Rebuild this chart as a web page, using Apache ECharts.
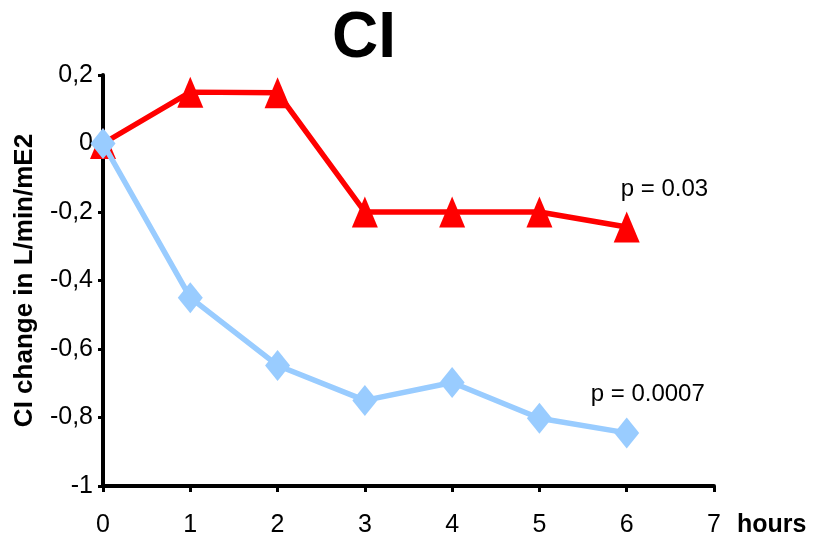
<!DOCTYPE html>
<html>
<head>
<meta charset="utf-8">
<script src="https://cdn.jsdelivr.net/npm/echarts@6/dist/echarts.min.js"></script>
<style>
  html, body { margin: 0; padding: 0; background: #fff; }
  #chart { width: 813px; height: 538px; }
</style>
</head>
<body>
<div id="chart"></div>
<script>
// Hours after start
const hours = [0, 1, 2, 3, 4, 5, 6];
// CI change (L/min/mE2) per group
const redSeries = [0, 0.15, 0.148, -0.2, -0.2, -0.2, -0.244];
const blueSeries = [0, -0.45, -0.648, -0.75, -0.698, -0.802, -0.845];
// Significance notes shown beside the last point of each line
const redNote = 'p = 0.03';
const blueNote = 'p = 0.0007';
// Y tick labels (comma decimals)
const yTickValues = [-1, -0.8, -0.6, -0.4, -0.2, 0, 0.2];
const yTickLabels = ['-1', '-0,8', '-0,6', '-0,4', '-0,2', '0', '0,2'];
const xTickLabels = ['0', '1', '2', '3', '4', '5', '6', '7'];

const FONT = '"Liberation Sans", Arial, sans-serif';

function pairs(xs, ys) {
  return xs.map((x, i) => [x, ys[i]]);
}

// Attach a text note to the final point of a series
function withNote(data, note, offset) {
  const out = data.map(d => ({ value: d }));
  out[out.length - 1].label = {
    show: true,
    formatter: note,
    position: 'top',
    distance: 0,
    align: 'left',
    verticalAlign: 'middle',
    offset: offset,
    color: '#000',
    fontFamily: FONT,
    fontSize: 24
  };
  return out;
}

const chart = echarts.init(document.getElementById('chart'), null, { renderer: 'canvas' });

chart.setOption({
  animation: false,
  backgroundColor: '#fff',
  title: {
    text: 'CI',
    left: 359,
    top: 2,
    textAlign: 'center',
    textStyle: { fontFamily: FONT, fontSize: 64, fontWeight: 'bold', color: '#000' }
  },
  grid: { left: 103, right: 99, top: 75, bottom: 51, containLabel: false },
  xAxis: {
    type: 'value',
    min: 0,
    max: 7,
    interval: 1,
    name: 'hours',
    nameLocation: 'end',
    nameGap: 23,
    nameTextStyle: {
      fontFamily: FONT, fontSize: 25, fontWeight: 'bold', color: '#000',
      verticalAlign: 'top', padding: [27, 0, 0, 0]
    },
    axisLine: { show: true, onZero: false, lineStyle: { color: '#000', width: 4 } },
    axisTick: { show: true, inside: false, length: 6, lineStyle: { color: '#000', width: 3 } },
    axisLabel: {
      margin: 27,
      fontFamily: FONT, fontSize: 25, color: '#000',
      formatter: v => xTickLabels[Math.round(v)]
    },
    splitLine: { show: false }
  },
  yAxis: {
    type: 'value',
    min: -1,
    max: 0.2,
    interval: 0.2,
    name: 'CI change in L/min/mE2',
    nameLocation: 'middle',
    nameGap: 65,
    nameTextStyle: { fontFamily: FONT, fontSize: 26, fontWeight: 'bold', color: '#000' },
    axisLine: { show: true, lineStyle: { color: '#000', width: 4 } },
    axisTick: { show: true, inside: false, length: 5, lineStyle: { color: '#000', width: 3 } },
    axisLabel: {
      margin: 10,
      fontFamily: FONT, fontSize: 25, color: '#000',
      formatter: v => {
        const i = yTickValues.findIndex(t => Math.abs(t - v) < 1e-6);
        return i >= 0 ? yTickLabels[i] : '';
      }
    },
    splitLine: { show: false }
  },
  series: [
    {
      name: 'red',
      type: 'line',
      data: withNote(pairs(hours, redSeries), redNote, [-6, -22]),
      symbol: 'triangle',
      symbolSize: [26, 31],
      itemStyle: { color: '#ff0000' },
      lineStyle: { color: '#ff0000', width: 5.5 },
      z: 2
    },
    {
      name: 'blue',
      type: 'line',
      data: withNote(pairs(hours, blueSeries), blueNote, [-36, -23]),
      symbol: 'diamond',
      symbolSize: [25, 31],
      itemStyle: { color: '#99ccff' },
      lineStyle: { color: '#99ccff', width: 5.5 },
      z: 3
    }
  ]
});
</script>
</body>
</html>
